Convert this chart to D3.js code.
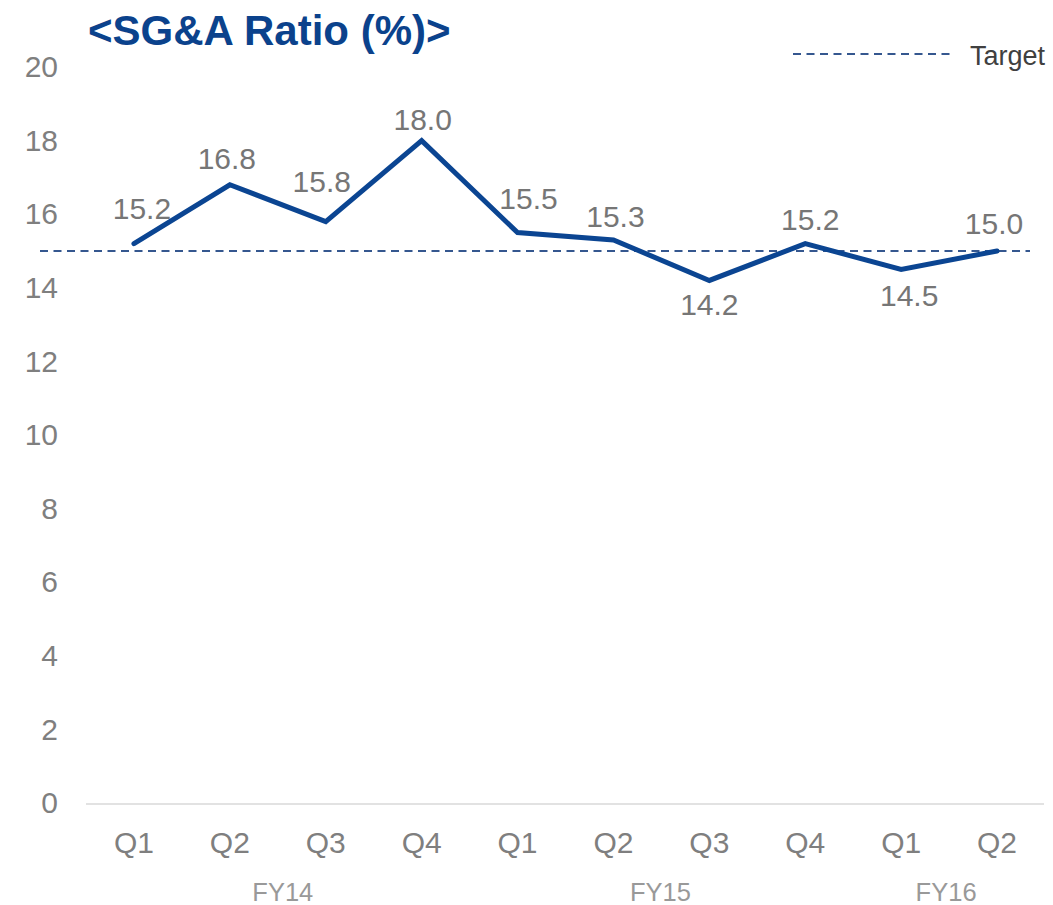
<!DOCTYPE html>
<html>
<head>
<meta charset="utf-8">
<script src="https://cdn.jsdelivr.net/npm/d3@7"></script>
<style>
  body { margin: 0; background: #fff; }
  text { font-family: Arial, "Liberation Sans", sans-serif; }
</style>
</head>
<body>
<script>
const WIDTH = 1053;
const HEIGHT = 905;

// data
const quarters = ["Q1", "Q2", "Q3", "Q4", "Q1", "Q2", "Q3", "Q4", "Q1", "Q2"];
const fiscalYears = ["FY14", "FY15", "FY16"];
const fyCenter = [[1, 2], [5, 6], [8, 9]]; // quarters each FY label sits between
const sgaRatio = [15.2, 16.8, 15.8, 18.0, 15.5, 15.3, 14.2, 15.2, 14.5, 15.0];
const target = 15.0;
const yTicks = [0, 2, 4, 6, 8, 10, 12, 14, 16, 18, 20];

// label nudges (px) as placed in the source slide
const labelNudge = [[8, -36], [-3, -27], [-4, -41], [1, -22], [11, -35],
                    [2, -24], [0, 24], [5, -25], [8, 26], [-3, -28]];
const fyNudge = [5, -1, -3];

const svg = d3.select("body")
    .append("svg")
    .attr("width", WIDTH)
    .attr("height", HEIGHT);

const x = d3.scaleBand()
    .domain(d3.range(quarters.length))
    .range([86, 1045]);

const y = d3.scaleLinear()
    .domain([0, 20])
    .range([803, 67]);

const cx = (i) => x(i) + x.bandwidth() / 2;

// title
svg.append("text")
    .attr("x", 88)
    .attr("y", 45)
    .attr("font-size", 42)
    .attr("font-weight", "bold")
    .attr("fill", "#0b428c")
    .text("<SG&A Ratio (%)>");

// y axis labels
const yAxis = d3.axisLeft(y).tickValues(yTicks).tickSize(0).tickPadding(0);
svg.append("g")
    .attr("transform", "translate(58,0)")
    .call(yAxis)
    .call(g => g.select(".domain").remove())
    .call(g => g.selectAll("text")
        .attr("font-size", 30)
        .attr("fill", "#7f7f7f"));

// baseline
svg.append("line")
    .attr("x1", 86).attr("x2", 1044)
    .attr("y1", y(0) + 1).attr("y2", y(0) + 1)
    .attr("stroke", "#d9d9d9")
    .attr("stroke-width", 1.5);

// x axis quarters
const xAxis = d3.axisBottom(x).tickFormat(i => quarters[i]).tickSize(0).tickPadding(0);
svg.append("g")
    .attr("transform", `translate(0,${y(0)})`)
    .call(xAxis)
    .call(g => g.select(".domain").remove())
    .call(g => g.selectAll("text")
        .attr("dy", null)
        .attr("y", 50)
        .attr("font-size", 30)
        .attr("fill", "#7f7f7f"));

// fiscal year labels
svg.selectAll(".fy")
    .data(fiscalYears)
    .join("text")
    .attr("class", "fy")
    .attr("x", (d, i) => (cx(fyCenter[i][0]) + cx(fyCenter[i][1])) / 2 + fyNudge[i])
    .attr("y", 901)
    .attr("text-anchor", "middle")
    .attr("font-size", 25.5)
    .attr("fill", "#999999")
    .text(d => d);

// target line
svg.append("line")
    .attr("x1", 40)
    .attr("x2", 1030)
    .attr("y1", y(target))
    .attr("y2", y(target))
    .attr("stroke", "#35578f")
    .attr("stroke-width", 2)
    .attr("stroke-dasharray", "8,5.5");

// SG&A line
const line = d3.line()
    .x((d, i) => cx(i))
    .y(d => y(d));

svg.append("path")
    .datum(sgaRatio)
    .attr("d", line)
    .attr("fill", "none")
    .attr("stroke", "#0b4592")
    .attr("stroke-width", 5)
    .attr("stroke-linejoin", "miter")
    .attr("stroke-linecap", "round");

// data labels
svg.selectAll(".lbl")
    .data(sgaRatio)
    .join("text")
    .attr("class", "lbl")
    .attr("x", (d, i) => cx(i) + labelNudge[i][0])
    .attr("y", (d, i) => y(d) + labelNudge[i][1] + 11)
    .attr("text-anchor", "middle")
    .attr("font-size", 30)
    .attr("fill", "#767676")
    .text(d => d.toFixed(1));

// legend
svg.append("line")
    .attr("x1", 793).attr("x2", 950)
    .attr("y1", 54).attr("y2", 54)
    .attr("stroke", "#35578f")
    .attr("stroke-width", 2)
    .attr("stroke-dasharray", "8,5.5");

svg.append("text")
    .attr("x", 970)
    .attr("y", 65)
    .attr("font-size", 27)
    .attr("fill", "#404040")
    .text("Target");
</script>
</body>
</html>
